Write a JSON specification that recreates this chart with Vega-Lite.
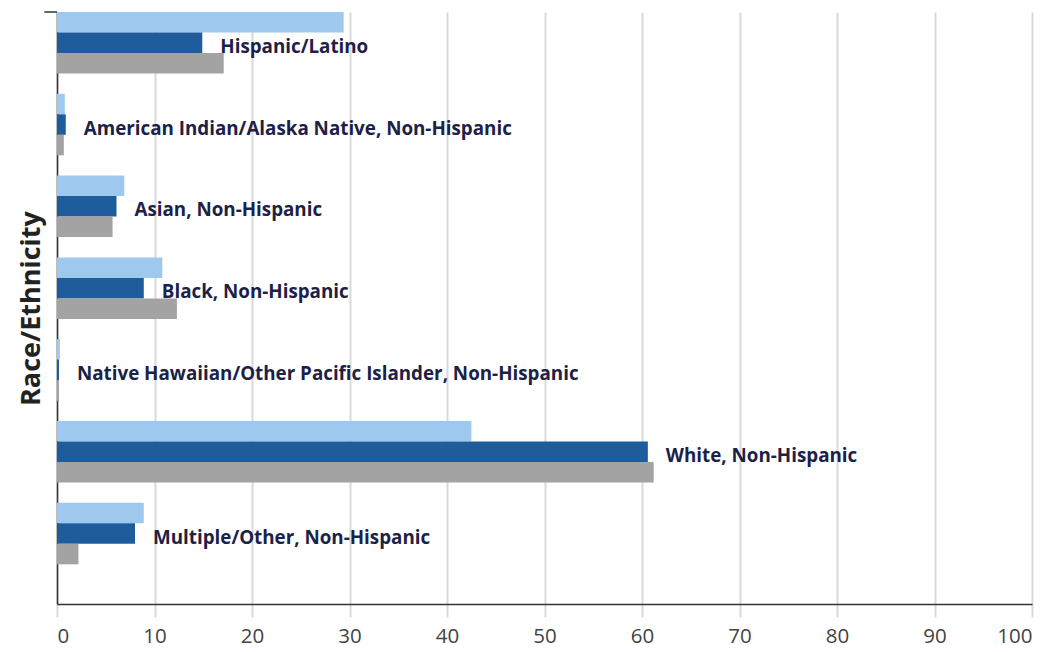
{
  "$schema": "https://vega.github.io/schema/vega-lite/v6.json",
  "width": 975,
  "height": 592,
  "autosize": {"type": "none"},
  "padding": {"left": 57, "top": 12, "right": 24, "bottom": 48},
  "background": "white",
  "config": {
    "font": "Open Sans",
    "view": {"stroke": null}
  },
  "data": {
    "values": [
      {"group": "Hispanic/Latino", "series": "A", "value": 29.4},
      {"group": "Hispanic/Latino", "series": "B", "value": 14.9},
      {"group": "Hispanic/Latino", "series": "C", "value": 17.1},
      {"group": "American Indian/Alaska Native, Non-Hispanic", "series": "A", "value": 0.8},
      {"group": "American Indian/Alaska Native, Non-Hispanic", "series": "B", "value": 0.9},
      {"group": "American Indian/Alaska Native, Non-Hispanic", "series": "C", "value": 0.7},
      {"group": "Asian, Non-Hispanic", "series": "A", "value": 6.9},
      {"group": "Asian, Non-Hispanic", "series": "B", "value": 6.1},
      {"group": "Asian, Non-Hispanic", "series": "C", "value": 5.7},
      {"group": "Black, Non-Hispanic", "series": "A", "value": 10.8},
      {"group": "Black, Non-Hispanic", "series": "B", "value": 8.9},
      {"group": "Black, Non-Hispanic", "series": "C", "value": 12.3},
      {"group": "Native Hawaiian/Other Pacific Islander, Non-Hispanic", "series": "A", "value": 0.3},
      {"group": "Native Hawaiian/Other Pacific Islander, Non-Hispanic", "series": "B", "value": 0.2},
      {"group": "Native Hawaiian/Other Pacific Islander, Non-Hispanic", "series": "C", "value": 0.2},
      {"group": "White, Non-Hispanic", "series": "A", "value": 42.5},
      {"group": "White, Non-Hispanic", "series": "B", "value": 60.6},
      {"group": "White, Non-Hispanic", "series": "C", "value": 61.2},
      {"group": "Multiple/Other, Non-Hispanic", "series": "A", "value": 8.9},
      {"group": "Multiple/Other, Non-Hispanic", "series": "B", "value": 8.0},
      {"group": "Multiple/Other, Non-Hispanic", "series": "C", "value": 2.2}
    ]
  },
  "encoding": {
    "y": {
      "field": "group",
      "type": "nominal",
      "sort": null,
      "scale": {"paddingInner": 0.248, "paddingOuter": 0.2425, "align": 0},
      "axis": {
        "title": "Race/Ethnicity",
        "labels": false,
        "ticks": false,
        "domainColor": "#333333",
        "domainWidth": 1.5,
        "titleFont": "Open Sans",
        "titleFontSize": 27,
        "titleFontWeight": "bold",
        "titleColor": "#222222",
        "titlePadding": 12
      }
    }
  },
  "layer": [
    {
      "mark": {"type": "bar", "cornerRadius": 0},
      "encoding": {
        "x": {
          "field": "value",
          "type": "quantitative",
          "scale": {"domain": [0, 100], "nice": false},
          "axis": {
            "title": null,
            "values": [0, 10, 20, 30, 40, 50, 60, 70, 80, 90, 100],
            "grid": true,
            "gridColor": "#d9d9d9",
            "gridWidth": 2,
            "tickColor": "#d9d9d9",
            "tickWidth": 2,
            "tickSize": 13,
            "domainColor": "#333333",
            "domainWidth": 1.5,
            "labelFont": "Open Sans",
            "labelFontSize": 20.5,
            "labelColor": "#444444",
            "labelPadding": 9
          }
        },
        "yOffset": {"field": "series", "type": "nominal", "scale": {"domain": ["A", "B", "C"], "paddingInner": 0, "paddingOuter": 0}},
        "color": {
          "field": "series",
          "type": "nominal",
          "scale": {"domain": ["A", "B", "C"], "range": ["#9fc8ee", "#1f5c9b", "#a3a3a3"]},
          "legend": null
        }
      }
    },
    {
      "transform": [{"filter": "datum.series === 'B'"}],
      "mark": {"type": "text", "align": "left", "baseline": "middle", "dx": 18, "dy": 4, "font": "Open Sans", "fontSize": 18.8, "fontWeight": "bold", "color": "#1c2147"},
      "encoding": {
        "x": {"field": "value", "type": "quantitative"},
        "yOffset": {"field": "series", "type": "nominal"},
        "text": {"field": "group", "type": "nominal"}
      }
    },
    {
      "transform": [{"filter": "datum.series === 'A' && datum.group === 'Hispanic/Latino'"}],
      "mark": {"type": "rule", "color": "#333333", "strokeWidth": 1.5},
      "encoding": {
        "x": {"datum": -1.3},
        "x2": {"datum": 0},
        "y": {"field": "group", "type": "nominal", "bandPosition": 0}
      }
    }
  ]
}
